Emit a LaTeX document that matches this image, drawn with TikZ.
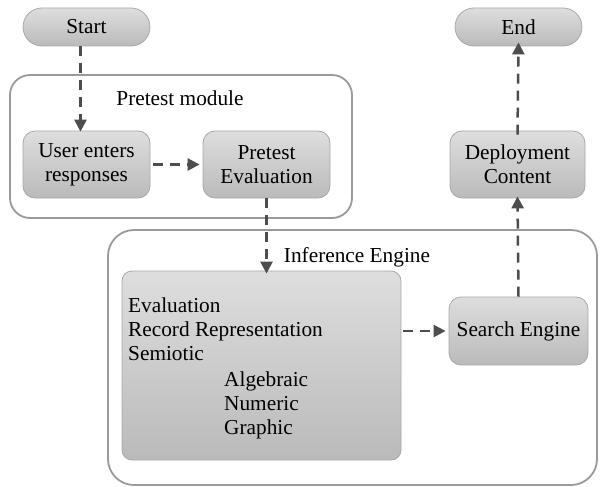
\documentclass[tikz,border=0pt]{standalone}
\usepackage{fontspec}
\setmainfont{Liberation Serif}
\usetikzlibrary{arrows.meta}
\definecolor{boxline}{HTML}{A8A8A8}
\definecolor{contline}{HTML}{9A9A9A}
\definecolor{arrcol}{HTML}{4D4D4D}
\tikzset{
  x=1pt,y=-1pt,
  every node/.style={font=\fontsize{21.3}{24}\selectfont, text=black},
  procbox/.style={draw=boxline, line width=0.8pt, rounded corners=12pt, top color=black!13, bottom color=black!27, align=center, inner sep=0pt},
  pill/.style={procbox, rounded corners=19pt},
  container/.style={draw=contline, line width=1.8pt},
  flow/.style={draw=arrcol, line width=2.5pt, dash pattern=on 10pt off 7pt, -{Triangle[length=12pt,width=12pt]}},
  lbl/.style={inner sep=0pt}
}
\begin{document}
\begin{tikzpicture}
\useasboundingbox (0,0) rectangle (600,487);
% containers
\draw[container, rounded corners=20pt] (10,75) rectangle (352,218);
\draw[container, rounded corners=26pt] (108,230) rectangle (597,485);
\node[lbl] (pmlabel) at (180,98) {Pretest module};
\node[lbl] (ielabel) at (357,257) {Inference Engine};
% nodes
\node[pill, minimum width=127pt, minimum height=38pt] (start) at (86.5,27) {Start};
\node[pill, minimum width=127pt, minimum height=38pt] (end) at (518.5,27) {End};
\node[procbox, minimum width=127pt, minimum height=67pt] (user) at (86.5,164.5) {User enters\\responses};
\node[procbox, minimum width=127pt, minimum height=67pt] (peval) at (266.5,164.5) {Pretest\\Evaluation};
\node[procbox, minimum width=135pt, minimum height=67pt] (deploy) at (517.5,164.5) {Deployment\\Content};
\node[procbox, minimum width=139pt, minimum height=68pt] (search) at (518.5,331) {Search Engine};
\node[procbox, rounded corners=10pt, minimum width=279pt, minimum height=189pt] (big) at (261.5,365.5) {};
% text lines in big box
\node[lbl, anchor=base west] (t1) at (128,312) {Evaluation};
\node[lbl, anchor=base west] (t2) at (128,336) {Record Representation};
\node[lbl, anchor=base west] (t3) at (128,360) {Semiotic};
\node[lbl, anchor=base west] (t4) at (224,386) {Algebraic};
\node[lbl, anchor=base west] (t5) at (224,410) {Numeric};
\node[lbl, anchor=base west] (t6) at (224,434) {Graphic};
% connectors
\draw[flow] ([xshift=-6pt]start.south) -- ([xshift=-6pt,yshift=-1pt]user.north);
\draw[flow] ([xshift=3pt]user.east) -- ([xshift=-3pt]peval.west);
\draw[flow] (peval.south) -- ([yshift=-3pt]peval.south |- big.north);
\draw[flow] ([xshift=2pt]big.east |- search.west) -- ([xshift=-3pt]search.west);
\draw[flow] (search.north) -- ([yshift=2pt]deploy.south);
\draw[flow] ([yshift=-4pt]deploy.north) -- ([yshift=4pt]end.south);
\end{tikzpicture}
\end{document}
